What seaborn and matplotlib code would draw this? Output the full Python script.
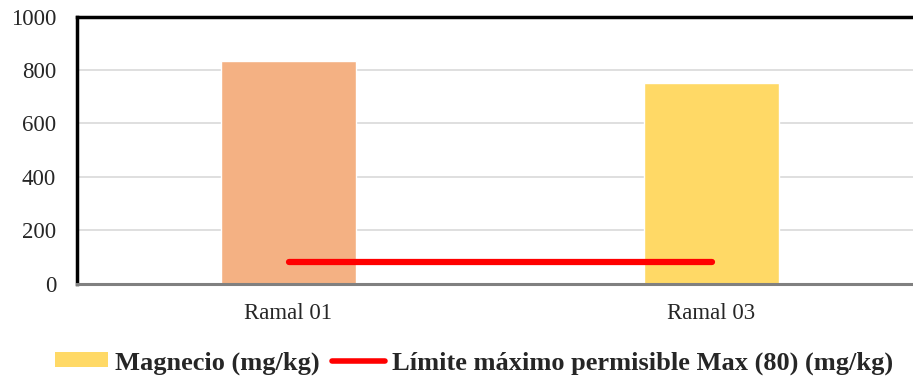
import matplotlib
matplotlib.use("Agg")
import matplotlib.pyplot as plt
import seaborn as sns
import pandas as pd
from matplotlib.patches import Patch
from matplotlib.lines import Line2D

# Data
categories = ["Ramal 01", "Ramal 03"]
magnesio = [832, 750]
limite = [80, 80]
bar_colors = ["#F4B183", "#FFD966"]
y_ticks = [0, 200, 400, 600, 800, 1000]

sns.set_theme(style="white")
plt.rcParams["font.family"] = ["Liberation Serif", "DejaVu Serif"]

df = pd.DataFrame({"Ramal": categories, "Magnesio": magnesio})

fig = plt.figure(figsize=(9.13, 3.80), dpi=100)
ax = fig.add_axes([77 / 913, 96.5 / 380, 846 / 913, 267 / 380])

sns.barplot(data=df, x="Ramal", y="Magnesio", hue="Ramal",
            palette=bar_colors, width=0.32, legend=False,
            saturation=1, ax=ax, zorder=2)

sns.lineplot(x=categories, y=limite, color="#FF0000", linewidth=4.5,
             solid_capstyle="round", ax=ax, zorder=3, legend=False)

ax.set_xlim(-0.5, 1.5)
ax.set_ylim(0, 1000)
ax.set_yticks(y_ticks)
ax.set_yticklabels([str(v) for v in y_ticks])
ax.yaxis.grid(True, color="#D9D9D9", linewidth=1.2, zorder=0)
ax.set_axisbelow(True)
ax.set_xlabel("")
ax.set_ylabel("")

ax.tick_params(axis="y", length=0, pad=15, labelsize=16.5)
ax.tick_params(axis="x", length=0, pad=14, labelsize=16.5)

for side in ["left", "top"]:
    ax.spines[side].set_visible(True)
    ax.spines[side].set_color("black")
    ax.spines[side].set_linewidth(2.5)
ax.spines["bottom"].set_color("#808080")
ax.spines["bottom"].set_linewidth(2.2)
ax.spines["right"].set_visible(False)

handles = [
    Patch(facecolor="#FFD966", edgecolor="none", label="Magnecio (mg/kg)"),
    Line2D([0], [0], color="#FF0000", linewidth=4, solid_capstyle="round",
           label="Límite máximo permisible Max (80) (mg/kg)"),
]
fig.legend(handles=handles, loc="center", ncol=2,
           bbox_to_anchor=(474 / 913, 1 - 363 / 380),
           frameon=False, handlelength=2.0, handleheight=0.5,
           handletextpad=0.25, columnspacing=0.5,
           prop={"family": ["Liberation Serif", "DejaVu Serif"],
                 "weight": "bold", "size": 19})

fig.savefig("out.png", dpi=100)
